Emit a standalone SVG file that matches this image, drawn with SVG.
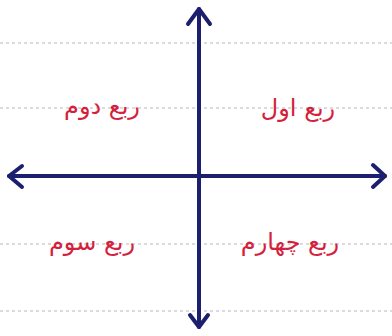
<svg xmlns="http://www.w3.org/2000/svg" width="392" height="336" viewBox="0 0 392 336">
<style>
.grid{stroke:#b8b8c0;stroke-width:1.2;stroke-dasharray:3 3;fill:none}
.axis{stroke:#1c1f6e;stroke-width:4;fill:none;stroke-linecap:round;stroke-linejoin:round}
.lbl{font-family:"DejaVu Sans",sans-serif;font-size:24px;fill:#d41f3d;text-anchor:middle}
</style>
<rect width="392" height="336" fill="#ffffff"/>
<g id="grid">
<line class="grid" x1="0" y1="43" x2="392" y2="43"/>
<line class="grid" x1="0" y1="108" x2="392" y2="108"/>
<line class="grid" x1="0" y1="244" x2="392" y2="244"/>
<line class="grid" x1="0" y1="311" x2="392" y2="311"/>
</g>
<g id="connectors">
<line class="axis" x1="199" y1="9" x2="199" y2="327"/>
<line class="axis" x1="9" y1="176" x2="385" y2="176"/>
<polyline class="axis" points="188,24 199,9 210,24"/>
<polyline class="axis" points="190,315 199,327 208,315"/>
<polyline class="axis" points="22,166 9,176 22,187"/>
<polyline class="axis" points="373,165 385,176 373,187"/>
</g>
<g id="q1"><text class="lbl" x="298" y="116">ربع اول</text></g>
<g id="q2"><text class="lbl" x="102" y="114">ربع دوم</text></g>
<g id="q3"><text class="lbl" x="92" y="250">ربع سوم</text></g>
<g id="q4"><text class="lbl" x="290" y="250">ربع چهارم</text></g>
</svg>
